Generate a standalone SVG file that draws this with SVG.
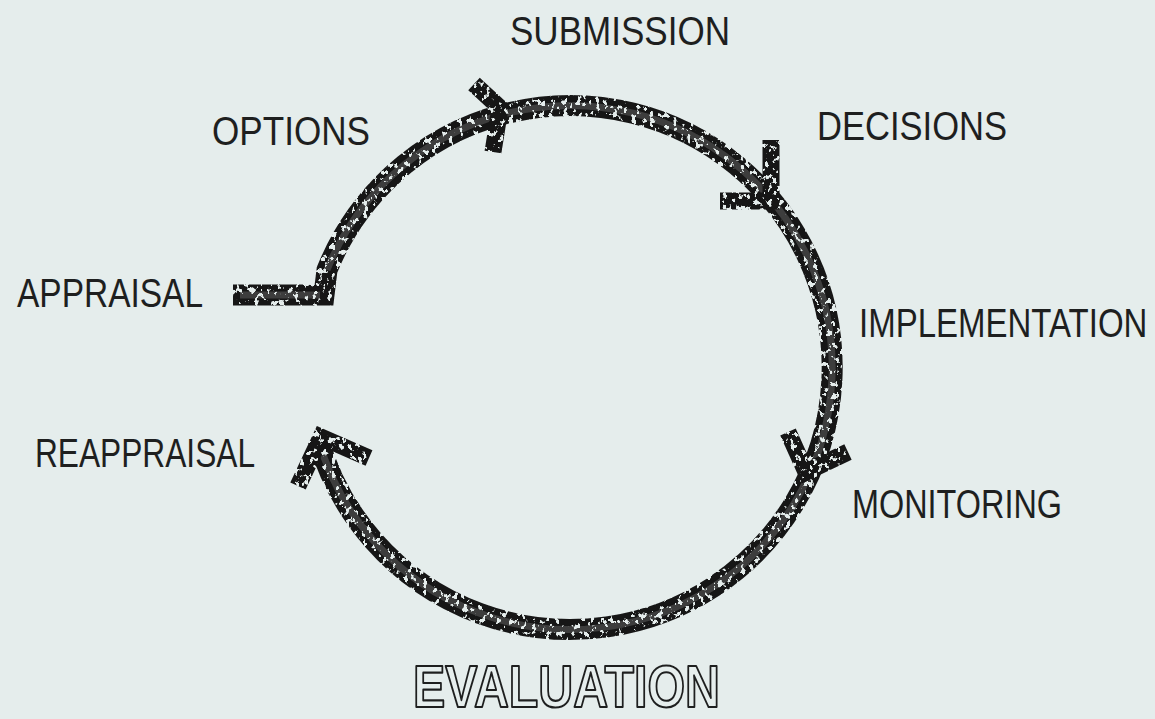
<svg xmlns="http://www.w3.org/2000/svg" width="1155" height="719" viewBox="0 0 1155 719">
  <defs>
    <style>
      .label { font-family: "Liberation Sans", "DejaVu Sans", sans-serif; font-size: 41px; fill: #1e1f1f; }
      .title { font-family: "Liberation Sans", "DejaVu Sans", sans-serif; font-size: 60px; font-weight: bold; fill: #e6eeed; stroke: #1e1f1f; stroke-width: 2.2; stroke-linejoin: round; }
      .band { fill: none; stroke: #161616; stroke-width: 21; stroke-linejoin: miter; }
      .core { fill: none; stroke: #3c3c3c; stroke-width: 7; }
      .head { fill: none; stroke: #161616; stroke-width: 17; stroke-linecap: butt; stroke-linejoin: miter; }
    </style>
    <!-- rough ink texture for the thick brush strokes -->
    <filter id="grain" x="0" y="0" width="1155" height="719" filterUnits="userSpaceOnUse">
      <feTurbulence type="fractalNoise" baseFrequency="0.22 0.16" numOctaves="3" seed="11" result="noise"/>
      <feColorMatrix in="noise" type="matrix" values="0 0 0 0 0  0 0 0 0 0  0 0 0 0 0  16 0 0 0 -9.4" result="holes"/>
      <feComposite in="SourceGraphic" in2="holes" operator="out"/>
    </filter>
  </defs>

  <rect width="1155" height="719" fill="#e5edec"/>

  <!-- cycle band and arrowheads -->
  <g id="connectors" filter="url(#grain)">
    <path id="cycle" class="band" d="M 233 295 L 324 295 L 327 270 A 262 262 0 1 1 318.4 440"/>
    <path class="core" d="M 240 295 L 320 295 M 327 270 A 262 262 0 1 1 318.4 440"/>
    <path id="arrow-submission" class="head" d="M 474 84 L 500 108 L 493 152"/>
    <path id="arrow-decisions" class="head" d="M 771 140 L 771 201 L 720 201"/>
    <path id="arrow-monitoring" class="head" d="M 788 432 L 806 472 L 848 452"/>
    <path id="arrow-reappraisal" class="head" d="M 298 486 L 321 437 L 369 458"/>
  </g>

  <!-- stage labels -->
  <g id="submission"><text class="label" x="510" y="45" textLength="220" lengthAdjust="spacingAndGlyphs">SUBMISSION</text></g>
  <g id="options"><text class="label" x="212" y="145" textLength="158" lengthAdjust="spacingAndGlyphs">OPTIONS</text></g>
  <g id="decisions"><text class="label" x="817" y="140" textLength="190" lengthAdjust="spacingAndGlyphs">DECISIONS</text></g>
  <g id="appraisal"><text class="label" x="17" y="307" textLength="186" lengthAdjust="spacingAndGlyphs">APPRAISAL</text></g>
  <g id="implementation"><text class="label" transform="translate(859 337) scale(0.805 1)">IMPLEMENTATION</text></g>
  <g id="reappraisal"><text class="label" x="35" y="467" textLength="220" lengthAdjust="spacingAndGlyphs">REAPPRAISAL</text></g>
  <g id="monitoring"><text class="label" x="852" y="518" textLength="210" lengthAdjust="spacingAndGlyphs">MONITORING</text></g>
  <g id="evaluation"><text class="title" x="413" y="707" textLength="307" lengthAdjust="spacingAndGlyphs">EVALUATION</text></g>
</svg>
